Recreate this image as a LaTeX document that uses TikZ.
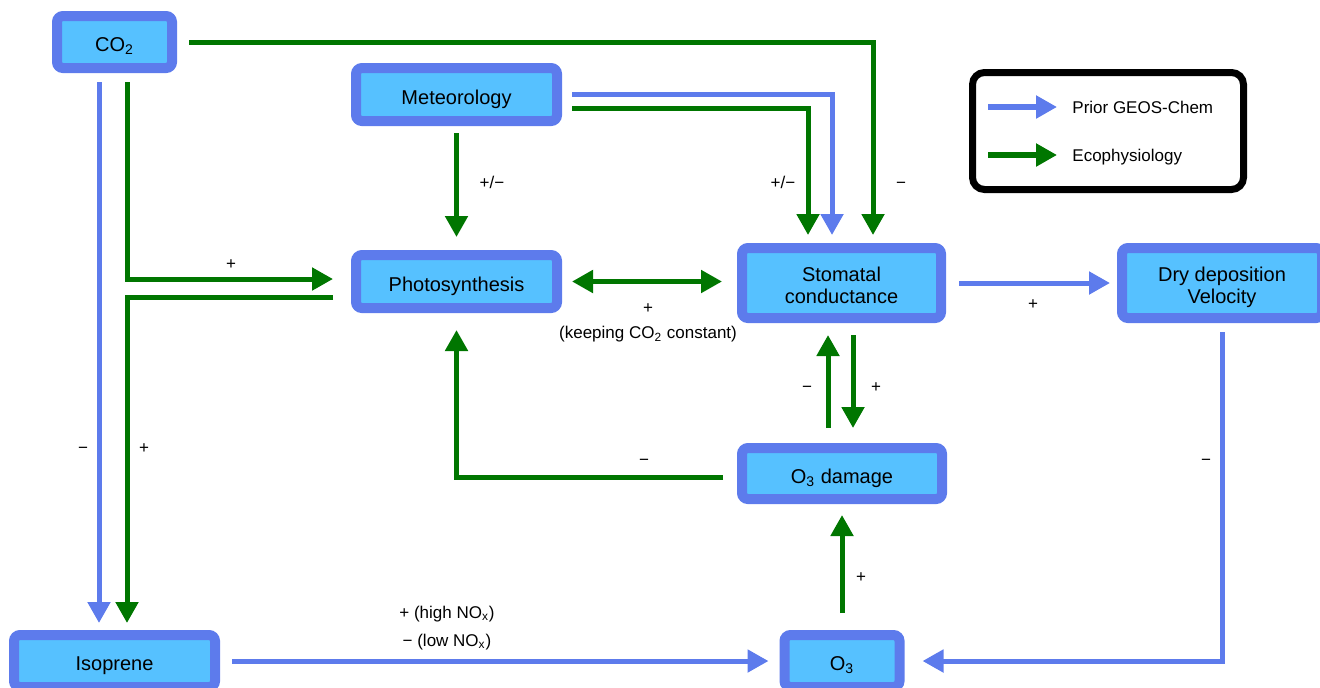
\documentclass[tikz,border=0pt]{standalone}
\usepackage{fontspec}
\setmainfont{Liberation Sans}
\usetikzlibrary{arrows.meta}

\definecolor{boxfill}{RGB}{86,193,255}
\definecolor{boxline}{RGB}{93,123,236}
\definecolor{ecogreen}{RGB}{0,118,0}

\begin{document}
\begin{tikzpicture}[
    x=0.5pt, y=-0.5pt,
    >={Triangle[length=10.5pt,width=11pt]},
    factor/.style={
        rectangle,
        draw=boxline,
        fill=boxfill,
        line width=5pt,
        rounded corners=3pt,
        inner sep=0pt,
        text height=9.6pt,
        text depth=0pt,
        font=\fontsize{10}{11}\selectfont,
        align=center
    },
    twoline/.style={factor, text height=20.3pt},
    prior/.style={draw=boxline, line width=2.5pt, ->},
    eco/.style={draw=ecogreen, line width=2.5pt, ->},
    lbl/.style={font=\fontsize{8.5}{10}\selectfont, inner sep=0pt,
        text height=8pt, text depth=1.5pt}
]
\useasboundingbox (0,0) rectangle (1320,687);

% Factors
\node[factor, minimum width=57.5pt, minimum height=26pt] (co2) at (114.5,42) {CO\textsubscript{2}};
\node[factor, minimum width=100.5pt, minimum height=26.5pt] (met) at (456.5,94.5) {Meteorology};
\node[factor, minimum width=100.5pt, minimum height=26.5pt] (photo) at (456.5,281.5) {Photosynthesis};
\node[twoline, minimum width=99.5pt, minimum height=35pt] (stom) at (841.5,283) {Stomatal\\conductance};
\node[twoline, minimum width=100pt, minimum height=35pt] (dry) at (1222,283) {Dry deposition\\Velocity};
\node[factor, minimum width=100pt, minimum height=25.5pt] (odmg) at (842,473.5) {O\textsubscript{3} damage};
\node[factor, minimum width=57.5pt, minimum height=26pt] (o3) at (842,661) {O\textsubscript{3}};
\node[factor, minimum width=100.5pt, minimum height=26pt] (iso) at (114.5,661) {Isoprene};

% CO2 links
\draw[eco, shorten <=6pt, shorten >=4pt] (co2.east) -| ([xshift=15.75pt]stom.north);
\draw[prior, shorten <=4.5pt, shorten >=3.5pt] ([xshift=-7.75pt]co2.south) -- ([xshift=-7.75pt]co2.south |- iso.north);
\draw[eco, shorten <=4.5pt, shorten >=9pt] ([xshift=6.25pt]co2.south) |- ([yshift=1.25pt]photo.west);
\draw[eco, shorten <=9pt, shorten >=3.5pt] ([yshift=-7.75pt]photo.west) -| ([xshift=6.25pt]iso.north);

% Meteorology links
\draw[eco, shorten <=3.5pt, shorten >=6.5pt] (met.south) -- (photo.north);
\draw[prior, shorten <=5pt, shorten >=4pt] (met.east) -| ([xshift=-4.75pt]stom.north);
\draw[eco, shorten <=5pt, shorten >=4pt] ([yshift=-7pt]met.east) -| ([xshift=-16.75pt]stom.north);

% Stomata and deposition
\draw[eco, <->, shorten <=5pt, shorten >=7.5pt] (photo.east) -- (photo.east -| stom.west);
\draw[prior, shorten <=6.5pt, shorten >=3.5pt] (stom.east) -- (dry.west);
\draw[prior, shorten <=4.5pt, shorten >=9pt] (dry.south) |- (o3.east);
\draw[prior, shorten <=6pt, shorten >=5.5pt] (iso.east) -- (o3.west);

% Ozone damage loop
\draw[eco, shorten <=8.5pt, shorten >=5.5pt] (o3.north) -- (o3.north |- odmg.south);
\draw[eco, shorten <=7.5pt, shorten >=6pt] ([xshift=-7pt]odmg.north) -- ([xshift=-7pt]odmg.north |- stom.south);
\draw[eco, shorten <=6pt, shorten >=7.5pt] ([xshift=5.75pt]stom.south) -- ([xshift=5.75pt]stom.south |- odmg.north);
\draw[eco, shorten <=7pt, shorten >=8.5pt] ([yshift=-1.75pt]odmg.west) -| (photo.south);

% Signs
\node[lbl] (s1) at (492,182) {+/−};
\node[lbl] (s2) at (783,182) {+/−};
\node[lbl] (s3) at (901,182) {−};
\node[lbl] (s4) at (231,263) {+};
\node[lbl] (s5) at (83,447) {−};
\node[lbl] (s6) at (144,447) {+};
\node[lbl] (s7) at (648,307) {+};
\node[lbl] (s8) at (648,332) {(keeping CO\textsubscript{2} constant)};
\node[lbl] (s9) at (1033,303) {+};
\node[lbl] (s10) at (807,386) {−};
\node[lbl] (s11) at (876,386) {+};
\node[lbl] (s12) at (644,459) {−};
\node[lbl] (s13) at (1206,459) {−};
\node[lbl] (s14) at (861,576) {+};
\node[lbl] (s15) at (447,612) {+ (high NO\textsubscript{x})};
\node[lbl] (s16) at (447,640) {− (low NO\textsubscript{x})};

% Legend
\node[draw, line width=3.5pt, rounded corners=6pt, minimum width=135.5pt, minimum height=58.5pt] (legend) at (1108,131) {};
\node[lbl, anchor=west] (lgprior) at (1072,107) {Prior GEOS-Chem};
\node[lbl, anchor=west] (lgeco) at (1072,155) {Ecophysiology};
\coordinate (lpstart) at (988,107);
\coordinate (lestart) at (988,155);
\draw[prior, line width=3pt] (lpstart) -- ([xshift=-7.5pt]lgprior.west);
\draw[eco, line width=3pt] (lestart) -- ([xshift=-7.5pt]lgeco.west);

\end{tikzpicture}
\end{document}
